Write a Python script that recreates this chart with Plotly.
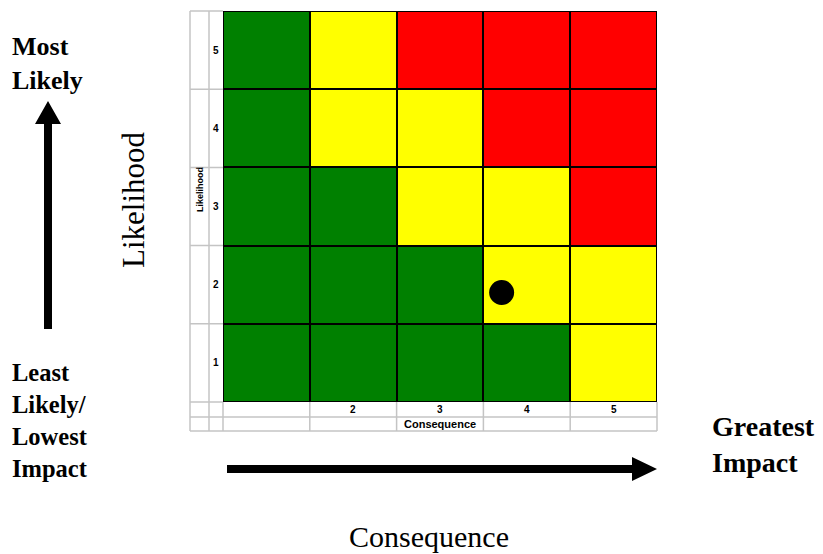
import plotly.graph_objects as go

# ---- data ----
consequence_vals = [1, 2, 3, 4, 5]
likelihood_vals = [1, 2, 3, 4, 5]
consequence_labels = ["", "2", "3", "4", "5"]
likelihood_labels = ["1", "2", "3", "4", "5"]
# risk level per likelihood row (1 = bottom .. 5 = top); 0 green, 1 yellow, 2 red
risk_row1 = [0, 0, 0, 0, 1]
risk_row2 = [0, 0, 0, 1, 1]
risk_row3 = [0, 0, 1, 1, 2]
risk_row4 = [0, 1, 1, 2, 2]
risk_row5 = [0, 1, 2, 2, 2]
point_consequence = [3.71]
point_likelihood = [1.9]

W, H = 823, 554
def px(x):
    return x / W
def py(y):
    return 1 - y / H

GRID_L, GRID_R, GRID_T, GRID_B = 223, 657, 11, 402
GRAY = "#c4c4c4"

fig = go.Figure()
fig.add_trace(go.Heatmap(
    x=consequence_vals, y=likelihood_vals,
    z=[risk_row1, risk_row2, risk_row3, risk_row4, risk_row5],
    zmin=0, zmax=2,
    colorscale=[[0, "#008000"], [0.333, "#008000"], [0.333, "#ffff00"],
                [0.667, "#ffff00"], [0.667, "#ff0000"], [1, "#ff0000"]],
    showscale=False, xgap=2, ygap=2, hoverinfo="skip"))
fig.add_trace(go.Scatter(
    x=point_consequence, y=point_likelihood, mode="markers",
    marker=dict(size=25, color="black"), hoverinfo="skip", showlegend=False))

shapes = []
# outer black border of the matrix
shapes.append(dict(type="rect", xref="x", yref="y", x0=0.5, x1=5.5, y0=0.5, y1=5.5,
                   line=dict(color="black", width=2)))
# gray table lines
def gline(x0, y0, x1, y1, xref="paper", yref="paper"):
    shapes.append(dict(type="line", xref=xref, yref=yref, x0=x0, y0=y0, x1=x1, y1=y1,
                       line=dict(color=GRAY, width=1.5), layer="below"))
gline(px(190), py(11), px(190), py(431))
gline(px(209), py(11), px(209), py(431))
gline(px(190), py(11), px(223), py(11))
gline(px(190), py(431), px(657), py(431))
gline(px(190), py(417), px(657), py(417))
gline(px(190), py(402), px(223), py(402))
gline(px(223), py(402), px(223), py(431))
gline(px(657), py(402), px(657), py(431))
for v in likelihood_vals[:-1]:
    gline(px(190), v + 0.5, px(223), v + 0.5, yref="y")
for v in consequence_vals[:-1]:
    gline(v + 0.5, py(402), v + 0.5, py(431), xref="x")

# arrows
shapes.append(dict(type="path", xref="paper", yref="paper",
    path=f"M {px(44)},{py(329)} L {px(52)},{py(329)} L {px(52)},{py(124)} L {px(61)},{py(124)} "
         f"L {px(48)},{py(101)} L {px(35)},{py(124)} L {px(44)},{py(124)} Z",
    fillcolor="black", line=dict(width=0)))
shapes.append(dict(type="path", xref="paper", yref="paper",
    path=f"M {px(227)},{py(465)} L {px(632)},{py(465)} L {px(632)},{py(457)} L {px(657)},{py(469)} "
         f"L {px(632)},{py(481)} L {px(632)},{py(473)} L {px(227)},{py(473)} Z",
    fillcolor="black", line=dict(width=0)))

annotations = []
small = dict(family="Liberation Sans, Arial", size=10, color="black")
for v, lab in zip(likelihood_vals, likelihood_labels):
    annotations.append(dict(text=f"<b>{lab}</b>", xref="paper", yref="y", x=px(216), y=v,
                            showarrow=False, font=small, xanchor="center", yanchor="middle"))
for v, lab in zip(consequence_vals, consequence_labels):
    if lab:
        annotations.append(dict(text=f"<b>{lab}</b>", xref="x", yref="paper", x=v, y=py(409.5),
                                showarrow=False, font=small, xanchor="center", yanchor="middle"))
annotations.append(dict(text="<b>Consequence</b>", xref="x", yref="paper", x=3, y=py(424),
                        showarrow=False, font=dict(family="Liberation Sans, Arial", size=11, color="black"),
                        xanchor="center", yanchor="middle"))
annotations.append(dict(text="<b>Likelihood</b>", xref="paper", yref="paper", x=px(200), y=py(190),
                        showarrow=False, textangle=-90, font=dict(family="Liberation Sans, Arial", size=9, color="black"),
                        xanchor="center", yanchor="middle"))

serif = "Liberation Serif, Times New Roman"
annotations.append(dict(text="<b>Most<br>Likely</b>", xref="paper", yref="paper", x=px(10), y=py(30),
                        showarrow=False, align="left", xanchor="left", yanchor="top",
                        font=dict(family=serif, size=26, color="black")))
annotations.append(dict(text="<b>Least<br>Likely/<br>Lowest<br>Impact</b>", xref="paper", yref="paper",
                        x=px(10), y=py(357), showarrow=False, align="left", xanchor="left", yanchor="top",
                        font=dict(family=serif, size=24.5, color="black")))
annotations.append(dict(text="<b>Greatest<br>Impact</b>", xref="paper", yref="paper", x=px(710), y=py(409),
                        showarrow=False, align="left", xanchor="left", yanchor="top",
                        font=dict(family=serif, size=28, color="black")))
annotations.append(dict(text="Likelihood", xref="paper", yref="paper", x=px(133), y=py(200),
                        showarrow=False, textangle=-90, xanchor="center", yanchor="middle",
                        font=dict(family=serif, size=31, color="black")))
annotations.append(dict(text="Consequence", xref="paper", yref="paper", x=px(429), y=py(536),
                        showarrow=False, xanchor="center", yanchor="middle",
                        font=dict(family=serif, size=30, color="black")))

fig.update_layout(
    width=W, height=H, margin=dict(l=0, r=0, t=0, b=0),
    paper_bgcolor="white", plot_bgcolor="black", showlegend=False,
    xaxis=dict(domain=[px(GRID_L), px(GRID_R)], range=[0.5, 5.5], showgrid=False, zeroline=False,
               showticklabels=False, ticks="", fixedrange=True),
    yaxis=dict(domain=[py(GRID_B), py(GRID_T)], range=[0.5, 5.5], showgrid=False, zeroline=False,
               showticklabels=False, ticks="", fixedrange=True),
    shapes=shapes, annotations=annotations)

fig.write_html("out.html", config={"displayModeBar": False},
               post_script="document.body.style.margin='0';document.body.style.overflow='hidden';")
